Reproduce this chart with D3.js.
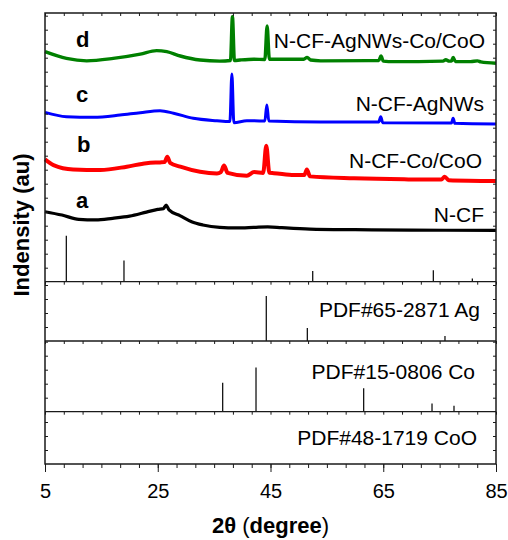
<!DOCTYPE html>
<html>
<head>
<meta charset="utf-8">
<script src="https://cdn.jsdelivr.net/npm/d3@7"></script>
<style>
  body { margin: 0; background: #fff; }
  svg { display: block; font-family: "Liberation Sans", Arial, sans-serif; }
</style>
</head>
<body>
<svg id="chart" width="508" height="540"></svg>
<script>
// ---- Diffraction patterns: [2θ (degree), intensity (au, offset for stacking)] ----
const patternA = [ // N-CF
  [5, 26.05], [8, 24.8], [11, 23.2], [14, 23.0], [17, 23.6], [20, 24.4], [23, 25.9],
  [25, 26.9], [26, 27.2], [26.5, 28.5], [27, 26.7], [29, 24.5], [31, 22.3], [33, 21.1],
  [36, 20.2], [39, 20.0], [42, 20.2], [44.5, 20.4], [47, 20.1], [52, 19.6], [60, 19.35],
  [70, 19.2], [85, 19.1]
];
const patternB = [ // N-CF-Co/CoO
  [5, 45.5], [6.5, 43.4], [10, 41.8], [14.8, 41.6], [19.5, 42.8], [23, 44.1], [25.4, 44.4],
  [26.2, 44.5], [26.7, 46.5], [27.2, 44.2], [29, 42.8], [32.5, 40.9], [35.5, 40.3],
  [36.2, 40.8], [36.75, 43.2], [37.4, 40.5], [40.8, 39.4], [42.1, 40.8], [43.7, 40.5],
  [44.25, 50.6], [44.8, 40.5], [45.6, 40.4], [49.2, 39.7], [51.0, 39.7], [51.45, 41.8],
  [52.0, 39.2], [59.8, 38.5], [68.7, 38.1], [75.3, 38.0], [75.9, 39.1], [76.6, 37.8],
  [85, 37.5]
];
const patternC = [ // N-CF-AgNWs
  [5, 63.0], [8.8, 61.4], [13.6, 61.2], [18.3, 62.0], [21.9, 62.9], [25.4, 63.6],
  [27.8, 62.7], [31.3, 60.8], [35.5, 59.9], [37.8, 59.6], [38.15, 77.3], [38.5, 59.2],
  [40.8, 59.9], [42.1, 59.9], [44.0, 59.8], [44.35, 65.8], [44.7, 59.8], [53.9, 59.4],
  [64.2, 59.4], [64.55, 61.4], [64.9, 59.2], [77.1, 59.1], [77.4, 60.8], [77.7, 58.95],
  [85, 58.7]
];
const patternD = [ // N-CF-AgNWs-Co/CoO
  [5, 85.6], [8.8, 83.1], [12.4, 82.2], [17.1, 83.1], [21.9, 84.7], [24.8, 86.0],
  [26.6, 85.6], [29, 84.0], [32.5, 82.5], [36, 82.1], [37.9, 82.3], [38.25, 98.6],
  [38.6, 82.3], [39.6, 82.5], [42, 82.8], [44.0, 82.7], [44.4, 95.2], [44.8, 82.8],
  [45.6, 82.8], [50.9, 82.8], [51.5, 83.5], [52.1, 82.5], [53.9, 82.2], [64.2, 82.3],
  [64.6, 84.0], [65.0, 82.1], [66.9, 81.9], [75.6, 82.1], [76.1, 82.6], [76.7, 82.1],
  [77.1, 82.1], [77.4, 83.5], [77.8, 81.9], [80.5, 81.9], [81.7, 82.2], [82.3, 81.8],
  [85, 81.3]
];

const seriesNames  = ["N-CF", "N-CF-Co/CoO", "N-CF-AgNWs", "N-CF-AgNWs-Co/CoO"];
const seriesTags   = ["a", "b", "c", "d"];
const seriesColors = ["#000000", "#ff0000", "#0000ff", "#008000"];
const seriesData   = [patternA, patternB, patternC, patternD];

// ---- Reference card sticks: [2θ, relative intensity] ----
const sticksTop = [[8.78, 100], [19.01, 46], [52.49, 23], [73.88, 25], [80.8, 7]];
const sticksAg  = [[44.25, 98], [51.53, 28], [75.95, 11]];
const sticksCo  = [[36.52, 63], [42.43, 96], [61.53, 51], [73.65, 18], [77.55, 13]];
const sticksCoO = [];
const cardLabels = ["", "PDF#65-2871 Ag", "PDF#15-0806 Co", "PDF#48-1719 CoO"];

const xTicks = [5, 25, 45, 65, 85];

// ---- Layout ----
const svg = d3.select("#chart");
const L = 45, R = 496, T = 13;
const panelBottoms = [281.7, 341, 411.7, 464];
const panelTops = [T, 281.7, 341, 411.7];

const x = d3.scaleLinear().domain([5, 85]).range([L, R]);
const yMain = d3.scaleLinear().domain([0, 100]).range([panelBottoms[0], T]);
const stickH = d3.scaleLinear().domain([0, 100]).range([0, 46]);

const axisColor = "#1a1a1a";

// Patterns
const line = d3.line()
  .x(d => x(d[0]))
  .y(d => yMain(d[1]))
  .curve(d3.curveMonotoneX);

const strokeW = [3.2, 4, 3, 3.4];
svg.append("g").selectAll("path")
  .data(seriesData)
  .join("path")
  .attr("d", line)
  .attr("fill", "none")
  .attr("stroke", (d, i) => seriesColors[i])
  .attr("stroke-width", (d, i) => strokeW[i])
  .attr("stroke-linejoin", "round");

// Series tags and names
const tagPos = [[76, 208.3], [77, 151.7], [76, 102.3], [76, 47.3]];
svg.append("g").selectAll("text")
  .data(seriesTags)
  .join("text")
  .attr("x", (d, i) => tagPos[i][0])
  .attr("y", (d, i) => tagPos[i][1])
  .attr("font-size", 22)
  .attr("font-weight", "bold")
  .text(d => d);

const namePos = [221.7, 168.3, 110.7, 48.3];
const nameRight = [484, 482, 484, 485];
svg.append("g").selectAll("text")
  .data(seriesNames)
  .join("text")
  .attr("x", (d, i) => nameRight[i])
  .attr("y", (d, i) => namePos[i])
  .attr("text-anchor", "end")
  .attr("font-size", 21)
  .text(d => d);

// Reference sticks
const stickSets = [sticksTop, sticksAg, sticksCo, sticksCoO];
stickSets.forEach((set, p) => {
  svg.append("g").selectAll("line")
    .data(set)
    .join("line")
    .attr("x1", d => x(d[0])).attr("x2", d => x(d[0]))
    .attr("y1", panelBottoms[p])
    .attr("y2", d => panelBottoms[p] - stickH(d[1]))
    .attr("stroke", "#000")
    .attr("stroke-width", 1.2);
});

const cardBase = [0, 317.3, 379.3, 445];
const cardRight = [0, 480, 475, 477];
svg.append("g").selectAll("text")
  .data(cardLabels)
  .join("text")
  .attr("x", (d, i) => cardRight[i])
  .attr("y", (d, i) => cardBase[i])
  .attr("text-anchor", "end")
  .attr("font-size", 21)
  .text(d => d);

// ---- Axes ----
function styleAxis(g) {
  g.selectAll("path.domain").remove();
  g.selectAll(".tick line").attr("stroke", axisColor).attr("stroke-width", 1);
}

const minorX = d3.range(0, 25).map(i => 5 + i * 20 / 6).filter(v => v <= 85.01);

// Bottom axis: major + minor
svg.append("g")
  .attr("transform", `translate(0,${panelBottoms[3]})`)
  .call(d3.axisBottom(x).tickValues(minorX).tickSize(4).tickFormat(""))
  .call(styleAxis);
const bottomMajor = svg.append("g")
  .attr("transform", `translate(0,${panelBottoms[3]})`)
  .call(d3.axisBottom(x).tickValues(xTicks).tickSize(8).tickPadding(12).tickFormat(d3.format("d")))
  .call(styleAxis);
bottomMajor.selectAll("text")
  .attr("font-size", 20)
  .attr("font-family", "Liberation Sans, Arial, sans-serif")
  .attr("fill", "#000");

// Top axis and divider ticks pointing into the panel below
panelTops.forEach(yv => {
  svg.append("g")
    .attr("transform", `translate(0,${yv})`)
    .call(d3.axisBottom(x).tickValues(minorX).tickSize(3).tickFormat(""))
    .call(styleAxis);
});

// Left / right axis ticks per panel
panelTops.forEach((top, p) => {
  const bottom = panelBottoms[p];
  const yP = d3.scaleLinear().domain([0, 100]).range([bottom, top]);
  const step = 100 * 14 / (bottom - top);
  const vals = d3.range(step, 100, step);
  svg.append("g")
    .attr("transform", `translate(${L},0)`)
    .call(d3.axisRight(yP).tickValues(vals).tickSize(3).tickFormat(""))
    .call(styleAxis);
  svg.append("g")
    .attr("transform", `translate(${R},0)`)
    .call(d3.axisLeft(yP).tickValues(vals).tickSize(3).tickFormat(""))
    .call(styleAxis);
});

// Frame and dividers
svg.append("rect")
  .attr("x", L).attr("y", T)
  .attr("width", R - L).attr("height", panelBottoms[3] - T)
  .attr("fill", "none").attr("stroke", axisColor).attr("stroke-width", 1.5);
svg.append("g").selectAll("line")
  .data(panelBottoms.slice(0, 3))
  .join("line")
  .attr("x1", L).attr("x2", R)
  .attr("y1", d => d).attr("y2", d => d)
  .attr("stroke", axisColor).attr("stroke-width", 1.3);

// Axis titles
const xTitle = svg.append("text")
  .attr("x", 270.5).attr("y", 533)
  .attr("text-anchor", "middle")
  .attr("font-size", 22)
  .attr("font-weight", "bold");
xTitle.append("tspan").text("2θ ");
xTitle.append("tspan").attr("font-weight", "normal").text("(");
xTitle.append("tspan").text("degree");
xTitle.append("tspan").attr("font-weight", "normal").text(")");

svg.append("text")
  .attr("transform", "translate(28.5,225) rotate(-90)")
  .attr("text-anchor", "middle")
  .attr("font-size", 22)
  .attr("font-weight", "bold")
  .text("Indensity (au)");
</script>
</body>
</html>
